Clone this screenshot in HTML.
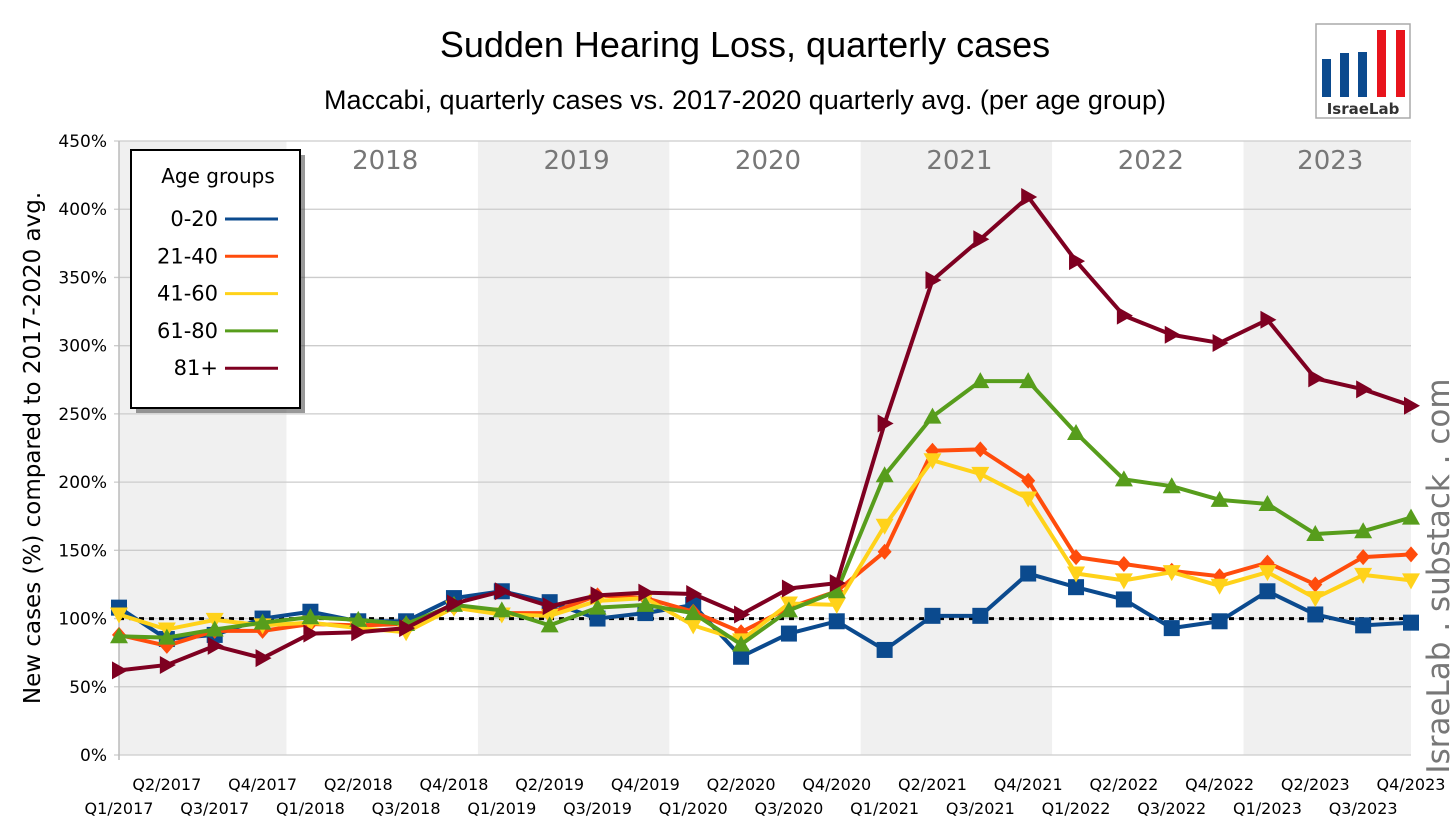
<!DOCTYPE html>
<html><head><meta charset="utf-8"><style>
body{margin:0;background:#fff;}
svg{display:block;font-family:"DejaVu Sans","Liberation Sans",sans-serif;}
</style></head><body>
<svg id="chart" width="1456" height="833" viewBox="0 0 1456 833">
<text x="745" y="57" text-anchor="middle" font-size="36" font-family="Liberation Sans, sans-serif">Sudden Hearing Loss, quarterly cases</text>
<text x="745" y="109" text-anchor="middle" font-size="27" font-family="Liberation Sans, sans-serif">Maccabi, quarterly cases vs. 2017-2020 quarterly avg. (per age group)</text>
<g>
<rect x="1316" y="24" width="94" height="94" fill="#fff" stroke="#aaa" stroke-width="1.5"/>
<rect x="1322" y="59" width="9" height="38" fill="#0b4a8e"/>
<rect x="1340" y="53" width="9" height="44" fill="#0b4a8e"/>
<rect x="1358" y="52" width="9" height="45" fill="#0b4a8e"/>
<rect x="1377" y="30" width="9" height="67" fill="#e8141c"/>
<rect x="1396" y="30" width="9" height="67" fill="#e8141c"/>
<text x="1363" y="114" text-anchor="middle" font-size="15" font-weight="bold" fill="#333" font-family="DejaVu Sans, sans-serif">IsraeLab</text>
</g>
<g id="bands"></g>
<g id="grid"></g>
<g id="yticks"></g>
<g id="xticks"></g>
<g id="years"></g>
<line x1="119" y1="618.6" x2="1411" y2="618.6" stroke="#000" stroke-width="3" stroke-dasharray="5,5"/>
<g id="series"></g>
<text transform="translate(40,448) rotate(-90)" text-anchor="middle" font-size="23">New cases (%) compared to 2017-2020 avg.</text>
<text transform="translate(1449,576) rotate(-90)" text-anchor="middle" font-size="31" fill="#777">IsraeLab . substack . com</text>
<g>
<rect x="136" y="155" width="169" height="258" fill="#555" opacity="0.6"/>
<rect x="131" y="150" width="169" height="258" fill="#fff" stroke="#000" stroke-width="2"/>
<text x="218" y="183" text-anchor="middle" font-size="20">Age groups</text>
<g id="legend-items"></g>
</g>
</svg>
<script>
const categories=["Q1/2017","Q2/2017","Q3/2017","Q4/2017","Q1/2018","Q2/2018","Q3/2018","Q4/2018","Q1/2019","Q2/2019","Q3/2019","Q4/2019","Q1/2020","Q2/2020","Q3/2020","Q4/2020","Q1/2021","Q2/2021","Q3/2021","Q4/2021","Q1/2022","Q2/2022","Q3/2022","Q4/2022","Q1/2023","Q2/2023","Q3/2023","Q4/2023"];
const seriesNames=["0-20","21-40","41-60","61-80","81+"];
const v0_20=[108,85,88,100,105,98,98,115,120,112,100,104,110,72,89,98,77,102,102,133,123,114,93,98,120,103,95,97];
const v21_40=[88,80,91,91,96,95,96,108,104,104,117,115,105,90,108,120,149,223,224,201,145,140,135,131,141,125,145,147];
const v41_60=[103,92,99,95,97,93,90,108,103,102,113,115,95,84,111,110,168,216,206,188,133,128,134,124,134,115,132,128];
const v61_80=[87,86,92,97,101,99,96,110,106,95,108,110,104,81,106,120,205,248,274,274,236,202,197,187,184,162,164,174];
const v81=[62,66,80,71,89,90,93,111,120,109,117,119,118,103,122,126,243,348,378,409,362,322,308,302,319,276,268,256];
const yTicks=[0,50,100,150,200,250,300,350,400,450];
const years=["2017","2018","2019","2020","2021","2022","2023"];
const NS="http://www.w3.org/2000/svg";
const X0=119,X1=1411,Y0=755,Y1=141;
const xs=i=>X0+i*(X1-X0)/(categories.length-1);
const ys=v=>Y0-(v/450)*(Y0-Y1);
function mk(t,a,p){const e=document.createElementNS(NS,t);for(const k in a)e.setAttribute(k,a[k]);p.appendChild(e);return e;}
const step=(X1-X0)/(categories.length-1);
const bands=document.getElementById('bands'),yrs=document.getElementById('years');
years.forEach((y,k)=>{
  const a=Math.max(X0,xs(k*4)-step/2),b=Math.min(X1,xs(k*4+3)+step/2);
  if(k%2===0){const r=mk('rect',{x:a,y:Y1,width:b-a,height:Y0-Y1,fill:'#f0f0f0'},bands);
  
  }
  if(k>0){const t=mk('text',{x:(a+b)/2+3,y:169,'text-anchor':'middle','font-size':26,fill:'#777'},yrs);t.textContent=y;
  
  }
});
const grid=document.getElementById('grid'),yt=document.getElementById('yticks');
yTicks.forEach(v=>{
  const l=mk('line',{x1:X0-5,x2:X1,y1:ys(v),y2:ys(v),stroke:'#ccc','stroke-width':1.3},grid);
  
  
  const t=mk('text',{x:107,y:ys(v)+6,'text-anchor':'end','font-size':17},yt);t.textContent=v+'%';
  
  
});
mk('line',{x1:X0,x2:X0,y1:Y1,y2:Y0+5,stroke:'#bbb','stroke-width':1.5},grid);
const xt=document.getElementById('xticks');
categories.forEach((c,i)=>{
  const t=mk('text',{x:xs(i),y:i%2?790:814,'text-anchor':'middle','font-size':16},xt);t.textContent=c;
  
  
});
const colors=["#0b4a8e","#ff4c0c","#ffd21a","#579d1c","#7e0021"];
const data=[v0_20,v21_40,v41_60,v61_80,v81];
const shapes=["square","diamond","down","up","right"];
function marker(s,x,y,c,g){
  let p;
  if(s==="square")p=mk('rect',{x:x-8,y:y-8,width:16,height:16,fill:c},g);
  else{let pts;
   if(s==="diamond")pts=[[x,y-8],[x+7,y],[x,y+8],[x-7,y]];
   if(s==="down")pts=[[x-9,y-7],[x+9,y-7],[x,y+9]];
   if(s==="up")pts=[[x-9,y+7],[x+9,y+7],[x,y-9]];
   if(s==="right")pts=[[x-7,y-9],[x-7,y+9],[x+9,y]];
   p=mk('polygon',{points:pts.map(q=>q.join(',')).join(' '),fill:c},g);}
  
  
}
const sg=document.getElementById('series');
data.forEach((d,k)=>{
  const g=mk('g',{},sg);
  
  
  const pl=mk('polyline',{points:d.map((v,i)=>xs(i)+','+ys(v)).join(' '),fill:'none',stroke:colors[k],'stroke-width':4,'stroke-linejoin':'round'},g);
  
  
  d.forEach((v,i)=>marker(shapes[k],xs(i),ys(v),colors[k],g));
});
const li=document.getElementById('legend-items');
seriesNames.forEach((n,k)=>{
  const y=219+k*37.3;
  const t=mk('text',{x:218,y:y+7,'text-anchor':'end','font-size':21},li);t.textContent=n;
  
  
  const l=mk('line',{x1:225,x2:278,y1:y,y2:y,stroke:colors[k],'stroke-width':3},li);
  
  
});
</script>
</body></html>
